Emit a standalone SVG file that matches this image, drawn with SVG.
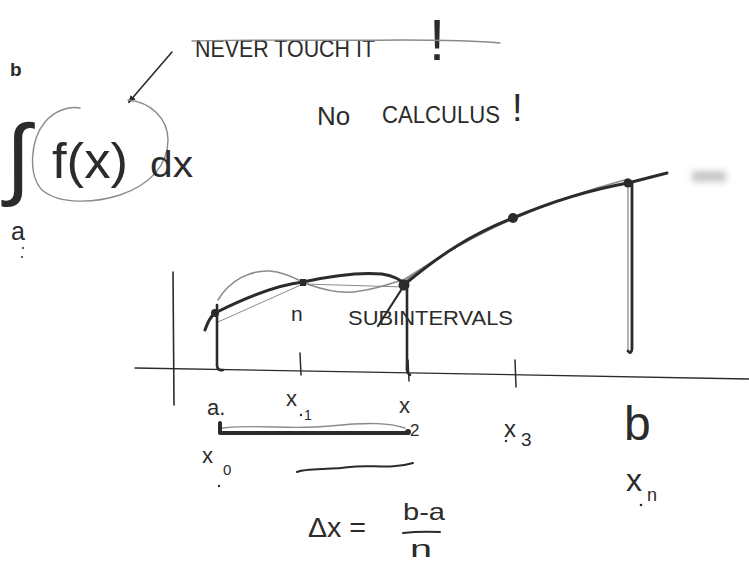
<svg xmlns="http://www.w3.org/2000/svg" width="749" height="563" viewBox="0 0 749 563">
<style>
.t{font-family:"Liberation Sans","DejaVu Sans",sans-serif;fill:#2b2b2b}
.ink{fill:none;stroke:#2b2b2b;stroke-linecap:round;stroke-linejoin:round}
.pen{fill:none;stroke:#8a8a8a;stroke-linecap:round;stroke-linejoin:round}
.dot{fill:#2b2b2b}
</style>
<defs>
<marker id="ah" viewBox="0 0 10 10" refX="8" refY="5" markerWidth="8" markerHeight="8" orient="auto" markerUnits="userSpaceOnUse">
<path d="M0,1 L10,5 L0,9 z" fill="#2b2b2b"/>
</marker>
<filter id="blur" x="-50%" y="-50%" width="200%" height="200%"><feGaussianBlur stdDeviation="3"/></filter>
</defs>
<rect width="749" height="563" fill="#ffffff"/>

<g id="note">
<text class="t" x="195" y="57" font-size="24" textLength="180" lengthAdjust="spacingAndGlyphs">NEVER TOUCH IT</text>
<text class="t" x="429" y="60" font-size="58">!</text>
<path class="pen" d="M192,41 C260,39 330,41 400,40 C440,40 480,41 500,43" stroke-width="1.4" stroke="#666"/>
<path class="ink" d="M172,52 L129,102" stroke-width="1.6" marker-end="url(#ah)"/>
</g>

<g id="integral">
<text class="t" x="10" y="76" font-size="19" font-weight="bold">b</text>
<text class="t" x="6" y="188" font-size="90" font-family="DejaVu Sans">∫</text>
<text class="t" x="11" y="240" font-size="25">a</text>
<circle class="dot" cx="23" cy="248" r="1"/>
<circle class="dot" cx="22" cy="257" r="1"/>
<path class="pen" d="M128,100 C150,102 168,118 168,140 C168,165 150,185 120,195 C95,203 60,205 42,190 C28,175 30,140 45,122 C55,110 70,106 80,108" stroke-width="1.4"/>
<text class="t" x="52" y="178" font-size="50" textLength="76" lengthAdjust="spacingAndGlyphs">f(x)</text>
<text class="t" x="150" y="177" font-size="36" textLength="43" lengthAdjust="spacingAndGlyphs">dx</text>
</g>

<g id="nocalculus">
<text class="t" x="317" y="125" font-size="26">No</text>
<text class="t" x="382" y="123" font-size="23" textLength="118" lengthAdjust="spacingAndGlyphs">CALCULUS</text>
<text class="t" x="512" y="121" font-size="38">!</text>
</g>

<g id="graph">
<rect x="692" y="171" width="34" height="11" fill="#c8c8c8" filter="url(#blur)"/>
<path class="ink" d="M173,272 L174,405" stroke-width="1.6"/>
<path class="ink" d="M135,368 L749,379" stroke-width="1.3" stroke="#555"/>
<path class="ink" d="M300,353 L301,375" stroke-width="1.5"/>
<path class="ink" d="M408,360 L409,381" stroke-width="1.5"/>
<path class="ink" d="M515,360 L516,387" stroke-width="1.5"/>
<path class="pen" d="M218,322 L303,284 L405,287" stroke-width="1" stroke="#aaa"/>
<path class="pen" d="M218,300 C230,280 250,270 270,271 C290,273 300,282 310,285 C330,292 345,294 360,291 C380,288 395,282 405,279 L440,257" stroke-width="1.6"/>
<path class="pen" d="M405,281 C450,247 520,208 628,179" stroke-width="1.4" stroke="#999"/>
<path class="pen" d="M628,185 L628,350" stroke-width="1.3" stroke="#999"/>
<path class="ink" d="M205,330 Q209,318 215,313 C245,298 275,285 303,282 C330,276 360,272 382,274 C395,276 400,280 405,284 C440,255 470,235 513,218 C560,198 600,188 628,183 L667,173" stroke-width="3"/>
<path class="ink" d="M405,284 L378,326" stroke-width="2.2"/>
<path class="ink" d="M217,305 L217,366 Q218,371 223,370" stroke-width="2.6"/>
<path class="ink" d="M407,285 L407,365 Q406,373 410,375" stroke-width="2.6"/>
<path class="ink" d="M632,183 L632,349 Q631,355 628,351" stroke-width="2.8"/>
<circle class="dot" cx="215" cy="313" r="4"/>
<rect class="dot" x="300" y="279" width="6" height="7"/>
<circle class="dot" cx="404" cy="285" r="5.5"/>
<circle class="dot" cx="513" cy="218" r="5"/>
<circle class="dot" cx="628" cy="183" r="4.5"/>
<text class="t" x="291" y="321" font-size="21">n</text>
<text class="t" x="348" y="325" font-size="20" textLength="165" lengthAdjust="spacingAndGlyphs">SUBINTERVALS</text>
</g>

<g id="labels">
<text class="t" x="207" y="415" font-size="22">a.</text>
<text class="t" x="286" y="406" font-size="22">x</text>
<circle class="dot" cx="301" cy="415" r="1.2"/>
<text class="t" x="304" y="420" font-size="14">1</text>
<text class="t" x="399" y="413" font-size="22">x</text>
<text class="t" x="410" y="436" font-size="17">2</text>
<text class="t" x="504" y="437" font-size="24">x</text>
<circle class="dot" cx="506" cy="441" r="1.2"/>
<text class="t" x="521" y="446" font-size="19">3</text>
<text class="t" x="624" y="440" font-size="48">b</text>
<text class="t" x="202" y="463" font-size="22">x</text>
<text class="t" x="223" y="475" font-size="15">0</text>
<circle class="dot" cx="219" cy="486" r="1.2"/>
<text class="t" x="626" y="491" font-size="32">x</text>
<text class="t" x="647" y="501" font-size="18">n</text>
<circle class="dot" cx="641" cy="505" r="1.3"/>
<path class="pen" d="M222,428 C260,424 290,430 330,426 S390,423 405,428" stroke-width="1.4"/>
<path class="ink" d="M220,423 L220,433 L408,433" stroke-width="4"/>
<circle class="dot" cx="408" cy="432" r="3"/>
<path class="ink" d="M297,472 C305,468 330,470 350,467 C370,464 390,470 413,463" stroke-width="2" stroke="#555"/>
</g>

<g id="formula">
<text class="t" x="308" y="537" font-size="27" textLength="58" lengthAdjust="spacingAndGlyphs">Δx =</text>
<text class="t" x="403" y="520" font-size="24" textLength="42" lengthAdjust="spacingAndGlyphs">b-a</text>
<path class="ink" d="M403,533 Q420,531 440,532" stroke-width="2"/>
<text class="t" x="410" y="557" font-size="24" textLength="22" lengthAdjust="spacingAndGlyphs">n</text>
</g>
</svg>
